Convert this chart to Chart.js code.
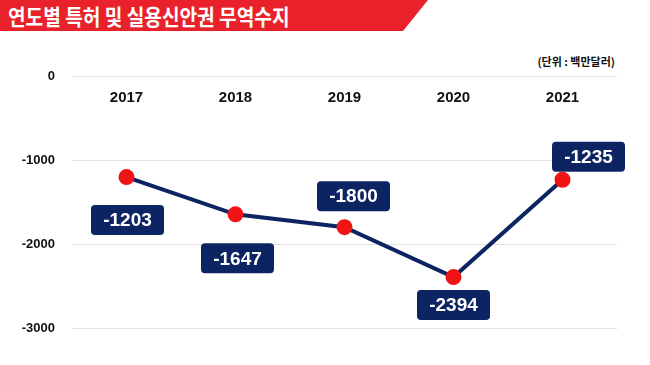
<!DOCTYPE html>
<html>
<head>
<meta charset="utf-8">
<script src="https://cdn.jsdelivr.net/npm/chart.js@4.4.1/dist/chart.umd.min.js"></script>
<style>
  html, body { margin: 0; padding: 0; background: #fff; }
  #wrap { position: relative; width: 650px; height: 365px; overflow: hidden; }
  #banner {
    position: absolute; left: 0; top: 0; width: 428px; height: 31px;
    background: #e8212b;
    clip-path: polygon(0 0, 428px 0, 403px 31px, 0 31px);
  }
  #title {
    position: absolute; left: 8px; top: 0px; color: #fff;
    font-family: "Noto Sans CJK KR", sans-serif; font-weight: 700;
    font-size: 22px; line-height: 30px; white-space: nowrap;
    transform: scaleX(0.87); transform-origin: left center;
  }
  #unit {
    position: absolute; right: 35px; top: 53px; color: #111;
    font-family: "Noto Sans CJK KR", sans-serif; font-weight: 700;
    font-size: 11px;
  }
  canvas { position: absolute; left: 0; top: 0; }
</style>
</head>
<body>
<div id="wrap">
  <div id="banner"></div>
  <div id="title">연도별 특허 및 실용신안권 무역수지</div>
  <div id="unit">(단위 : 백만달러)</div>
  <canvas id="balanceChart" width="650" height="365"></canvas>
</div>
<script>
const years = ["2017", "2018", "2019", "2020", "2021"];
const balance = [-1203, -1647, -1800, -2394, -1235];
const yTicks = [0, -1000, -2000, -3000];

// label box placement relative to each point (dx, dy)
const labelOffsets = [[1, 43], [2, 44], [9, -31], [0, 28], [26, -23]];

const navy = "#0c2461";
const narrow = "'Liberation Sans Narrow', 'Liberation Sans', Arial, sans-serif";

const valueBoxes = {
    id: "valueBoxes",
    afterDatasetsDraw(chart) {
        const ctx = chart.ctx;
        const meta = chart.getDatasetMeta(0);
        ctx.save();
        ctx.font = "bold 19px " + narrow;
        ctx.textAlign = "center";
        ctx.textBaseline = "middle";
        meta.data.forEach((pt, i) => {
            const [dx, dy] = labelOffsets[i];
            const cx = pt.x + dx, cy = pt.y + dy;
            const w = 73, h = 30;
            ctx.fillStyle = navy;
            ctx.beginPath();
            ctx.roundRect(cx - w / 2, cy - h / 2, w, h, 4);
            ctx.fill();
            ctx.fillStyle = "#fff";
            ctx.fillText(String(balance[i]).replace("-", "- ").replace("- ", "-"), cx, cy + 1);
        });
        ctx.restore();
    }
};

new Chart(document.getElementById("balanceChart").getContext("2d"), {
    type: "line",
    data: {
        labels: years,
        datasets: [{
            data: balance,
            borderColor: navy,
            borderWidth: 4,
            pointBackgroundColor: "#f01414",
            pointBorderColor: "#f01414",
            pointRadius: 6,
            tension: 0
        }]
    },
    options: {
        responsive: false,
        animation: false,
        layout: { padding: { left: 0, right: 33, top: 76, bottom: 37 } },
        plugins: { legend: { display: false }, tooltip: { enabled: false } },
        scales: {
            x: {
                position: { y: 0 },
                offset: true,
                grid: { display: false },
                border: { display: false },
                ticks: {
                    color: "#111",
                    padding: 5,
                    font: { family: "'Liberation Sans', Arial, sans-serif", weight: "bold", size: 15 }
                }
            },
            y: {
                min: -3000,
                max: 0,
                afterFit(scale) { scale.width = 72; },
                afterBuildTicks(scale) { scale.ticks = yTicks.map(v => ({ value: v })); },
                grid: { color: "#e2e2e2", lineWidth: 1, drawTicks: false },
                border: { display: false },
                ticks: {
                    color: "#111",
                    padding: 17,
                    callback: v => String(v),
                    font: { family: narrow, weight: "bold", size: 13 }
                }
            }
        }
    },
    plugins: [valueBoxes]
});
</script>
</body>
</html>
